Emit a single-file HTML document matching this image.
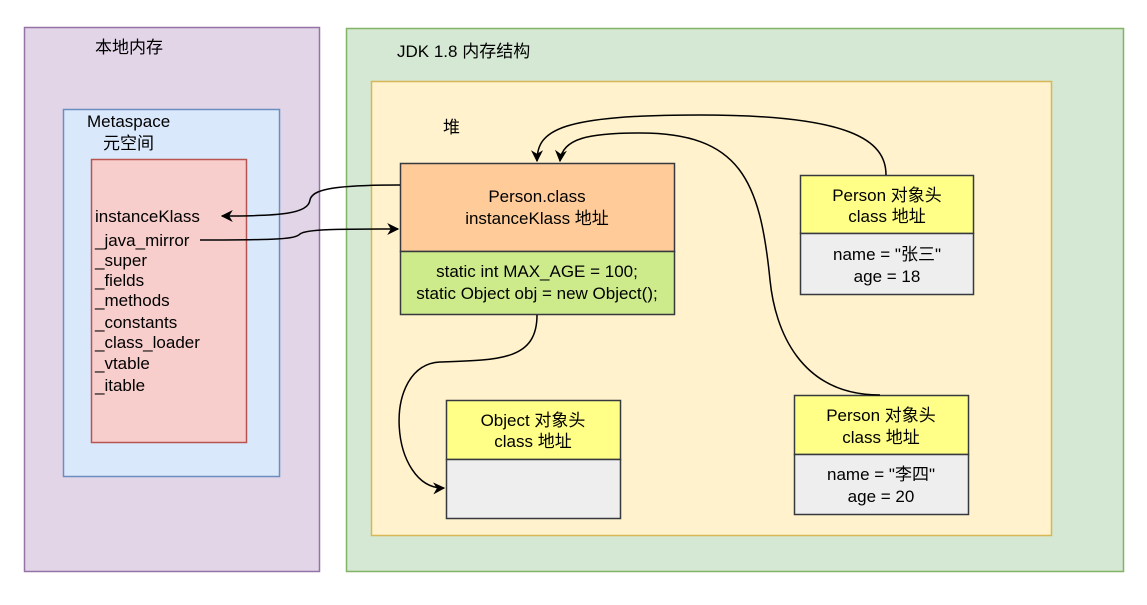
<!DOCTYPE html>
<html><head><meta charset="utf-8"><style>
body{margin:0;width:1147px;height:600px;background:#fff;overflow:hidden}
svg text{font-family:"Liberation Sans","Noto Sans CJK SC",sans-serif;font-size:17px;fill:#000}
</style></head><body>
<svg width="1147" height="600" xmlns="http://www.w3.org/2000/svg">
<defs><marker id="a" viewBox="0 0 10 10" refX="9" refY="5" markerWidth="8" markerHeight="8" orient="auto-start-reverse"><path d="M0,0 L10,5 L0,10 L3,5 z" fill="#000"/></marker></defs>
<g stroke-width="1.5">
<rect x="24.5" y="27.5" width="295" height="544" fill="#e1d5e7" stroke="#9673a6"/>
<rect x="63.5" y="109.5" width="216" height="367" fill="#dae8fc" stroke="#6c8ebf"/>
<rect x="91.5" y="159.5" width="155" height="283" fill="#f8cecc" stroke="#b85450"/>
<rect x="346.5" y="28.5" width="777" height="543" fill="#d5e8d4" stroke="#82b366"/>
<rect x="371.5" y="81.5" width="680" height="454" fill="#fff2cc" stroke="#d6b656"/>
<rect x="400.5" y="163.5" width="274" height="88" fill="#ffcc99" stroke="#36393d"/>
<rect x="400.5" y="251.5" width="274" height="63" fill="#cdeb8b" stroke="#36393d"/>
<rect x="800.5" y="175.5" width="173" height="58" fill="#ffff88" stroke="#36393d"/>
<rect x="800.5" y="233.5" width="173" height="61" fill="#eeeeee" stroke="#36393d"/>
<rect x="446.5" y="400.5" width="174" height="59" fill="#ffff88" stroke="#36393d"/>
<rect x="446.5" y="459.5" width="174" height="59" fill="#eeeeee" stroke="#36393d"/>
<rect x="794.5" y="395.5" width="174" height="59" fill="#ffff88" stroke="#36393d"/>
<rect x="794.5" y="454.5" width="174" height="60" fill="#eeeeee" stroke="#36393d"/>
</g>
<text x="95" y="53">本地内存</text>
<text x="87" y="127">Metaspace</text>
<text x="103" y="149">元空间</text>
<text x="95" y="222">instanceKlass</text>
<text x="95" y="246">_java_mirror</text>
<text x="95" y="266">_super</text>
<text x="95" y="286">_fields</text>
<text x="95" y="306">_methods</text>
<text x="95" y="328">_constants</text>
<text x="95" y="348">_class_loader</text>
<text x="95" y="369">_vtable</text>
<text x="95" y="391">_itable</text>
<text x="397" y="57">JDK 1.8 内存结构</text>
<text x="443" y="133">堆</text>
<text x="537" y="202" text-anchor="middle">Person.class</text>
<text x="537" y="224" text-anchor="middle">instanceKlass 地址</text>
<text x="537" y="277" text-anchor="middle">static int MAX_AGE = 100;</text>
<text x="537" y="299" text-anchor="middle">static Object obj = new Object();</text>
<text x="887" y="201" text-anchor="middle">Person 对象头</text>
<text x="887" y="222" text-anchor="middle">class 地址</text>
<text x="887" y="260" text-anchor="middle">name = "张三"</text>
<text x="887" y="282" text-anchor="middle">age = 18</text>
<text x="533" y="426" text-anchor="middle">Object 对象头</text>
<text x="533" y="447" text-anchor="middle">class 地址</text>
<text x="881" y="421" text-anchor="middle">Person 对象头</text>
<text x="881" y="443" text-anchor="middle">class 地址</text>
<text x="881" y="480" text-anchor="middle">name = "李四"</text>
<text x="881" y="502" text-anchor="middle">age = 20</text>
<g fill="none" stroke="#000" stroke-width="1.5">
<path d="M400,185 C330,185 312,190 310,200 C308,214 280,216 222,216" marker-end="url(#a)"/>
<path d="M200,240 C280,240 295,239 300,234 C306,229 340,229 398,229" marker-end="url(#a)"/>
<path d="M886,175 C886,140 850,115 700,115 C560,115 537,130 537,161" marker-end="url(#a)"/>
<path d="M880,395 C800,395 775,330 770,280 C760,180 740,133 640,133 C590,133 562,138 560,161" marker-end="url(#a)"/>
<path d="M537,315 C537,360 500,360 440,362 C380,365 390,490 444,488" marker-end="url(#a)"/>
</g>
</svg>
</body></html>
